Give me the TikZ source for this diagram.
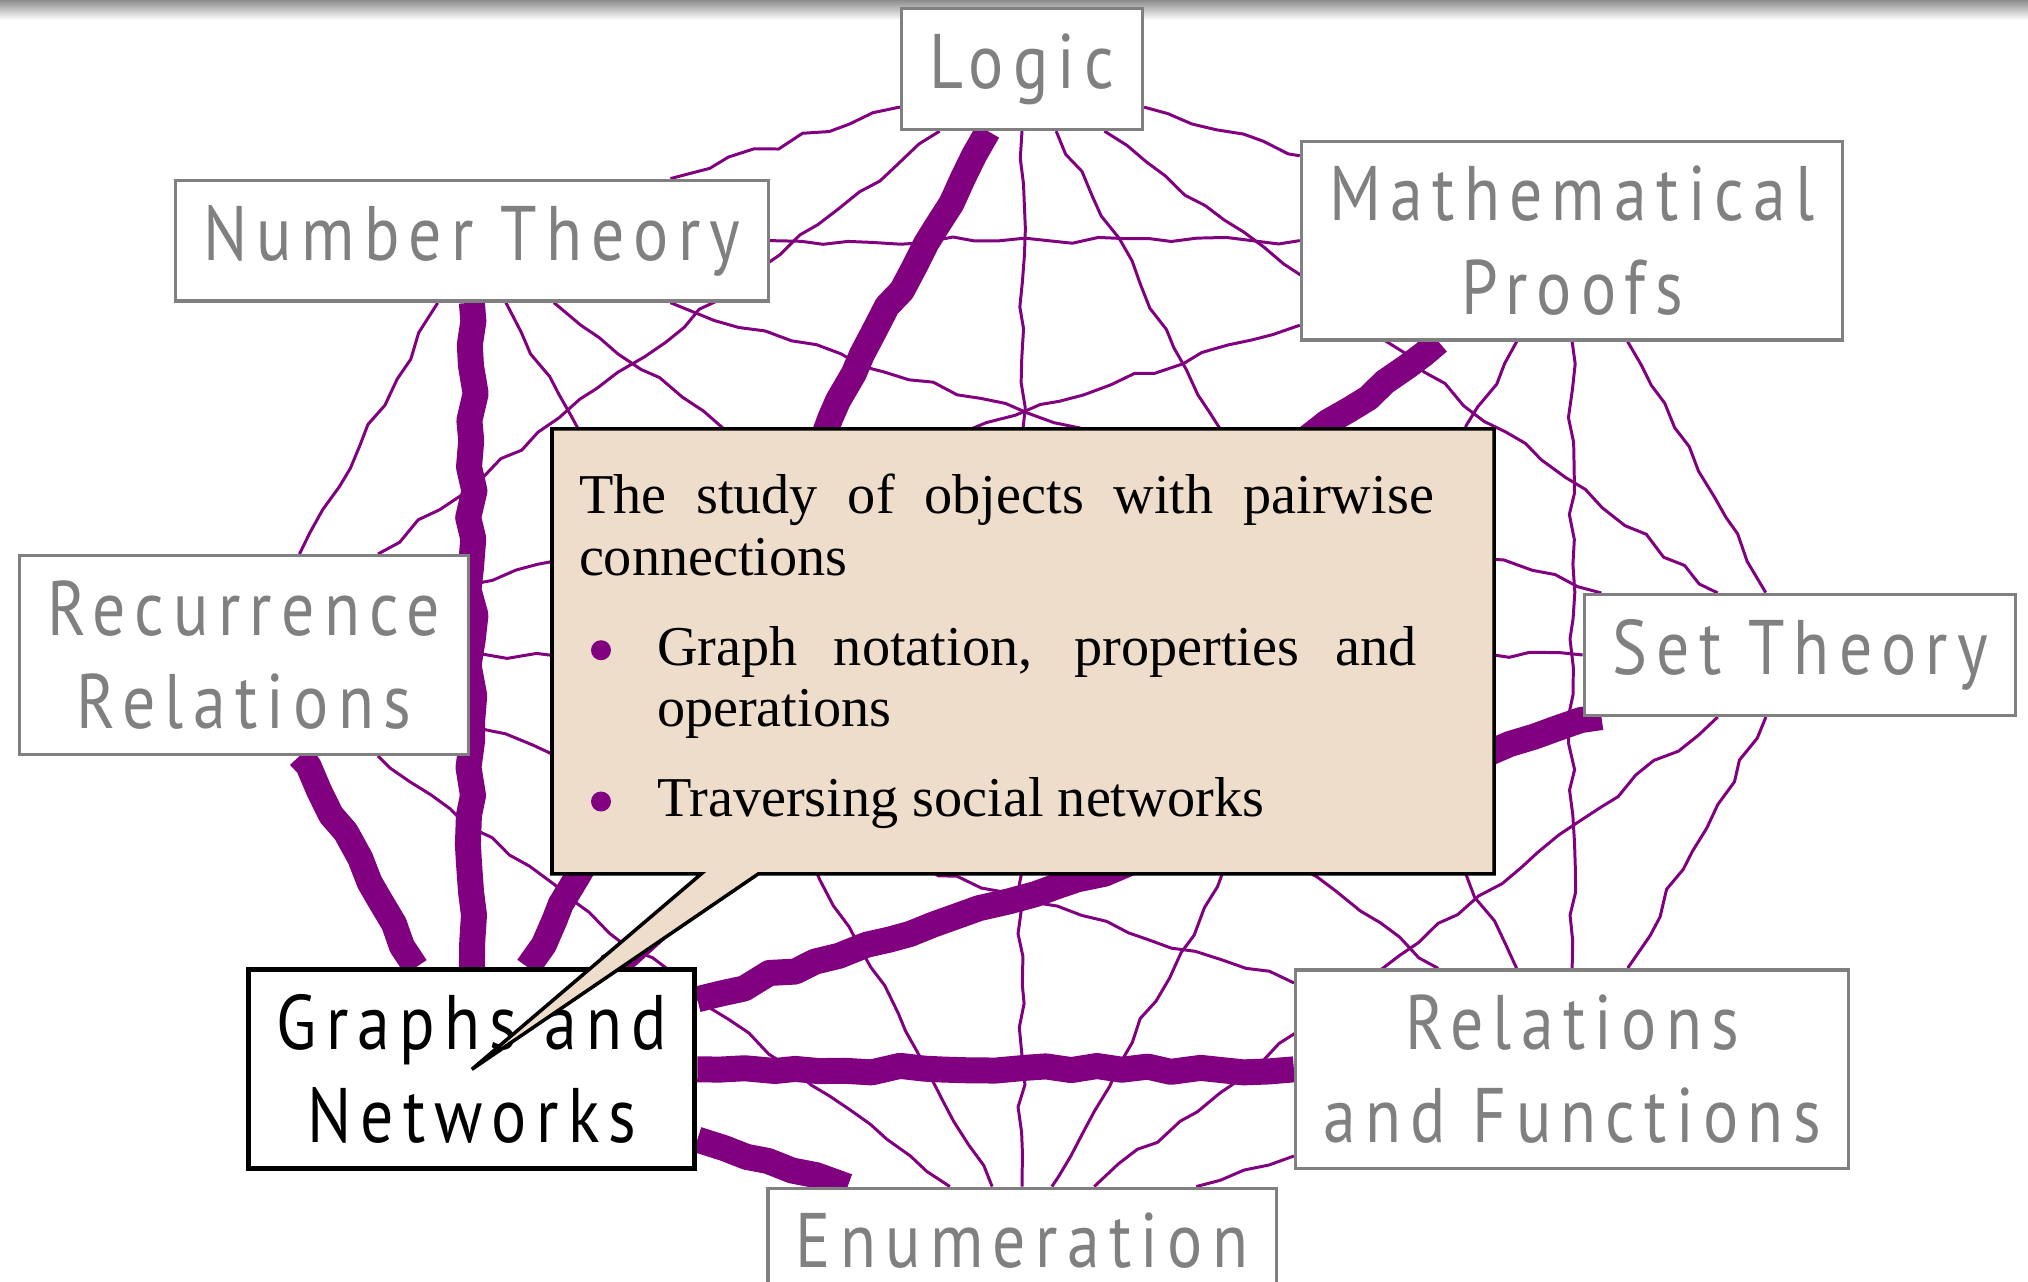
\documentclass[tikz,border=0pt]{standalone}
\usepackage{fontspec}
\setmainfont{Liberation Serif}
\newfontfamily\topicfont[LetterSpace=12,FakeStretch=0.85]{PT Sans}
\usetikzlibrary{calc}
\usetikzlibrary{decorations.pathmorphing}
\usetikzlibrary{shapes.callouts}
\usetikzlibrary{backgrounds}
\definecolor{linkpurple}{HTML}{800080}
\definecolor{topicgray}{HTML}{808080}
\definecolor{notebeige}{HTML}{EEDDCB}
\newcommand{\topicdot}{\raisebox{0.05cm}{\tikz\fill[linkpurple] (0,0) circle (0.1cm);}}

\begin{document}
\begin{tikzpicture}[
  topic/.style={draw=topicgray, line width=0.9pt, fill=white, text=topicgray, align=center,
    font=\topicfont\fontsize{22}{26.5}\selectfont, inner xsep=0.28cm, inner ysep=0.25cm},
  link/.style={linkpurple, line width=0.85pt, line join=round, decorate,
    decoration={random steps, segment length=0.25cm, amplitude=0.04cm}},
  hub/.style={line width=0.26cm}]
\pgfmathsetseed{7}
\useasboundingbox (0,0) rectangle (20.28,12.82);
\shade[top color=black!45, bottom color=white] (0,12.62) rectangle (20.28,12.82);
\coordinate (c) at (10.22,6.27);
% topics on an ellipse
\foreach \nm/\ang/\txt in {lg/90/Logic, mp/45/{Mathematical\\Proofs}, st/0/Set Theory,
  rf/-45/{Relations\\and Functions}, en/-90/Enumeration, rr/180/{Recurrence\\Relations},
  nt/135/Number Theory}
  \node[topic] (\nm) at ($(c)+(\ang:7.78 and 5.86)$) {\txt};
\node[topic, draw=black, text=black, line width=1.4pt] (gn) at ($(c)+(-135:7.78 and 5.86)$) {Graphs and\\Networks};
% every pair linked
\begin{scope}[on background layer]
\foreach \a [count=\i] in {lg,mp,st,rf,en,rr,nt} {
  \foreach \b [count=\j] in {lg,mp,st,rf,en,rr,nt} {
    \ifnum\j>\i \draw[link] (\a) -- (\b); \fi
  }
  \draw[link, hub] (gn) -- (\a);
}
\end{scope}
\node[rectangle callout, draw=black, line width=1pt, fill=notebeige, text width=8.88cm,
  inner xsep=0.27cm, minimum height=4.45cm, align=justify,
  callout absolute pointer={(gn.center)}, callout pointer width=0.57cm,
  font=\fontsize{16}{17.4}\selectfont] (note) at (10.23,6.305) {%
  \setlength{\parskip}{0.29cm}\rightskip=0.33cm\hyphenpenalty=10000
  The study of objects with pairwise connections\par
  \rightskip=0.5cm
  \hangindent=0.78cm\hangafter=0\noindent\llap{\topicdot\hspace{0.46cm}}Graph notation, properties and operations\par
  \hangindent=0.78cm\hangafter=0\noindent\llap{\topicdot\hspace{0.46cm}}Traversing social networks\par};
\end{tikzpicture}
\end{document}
